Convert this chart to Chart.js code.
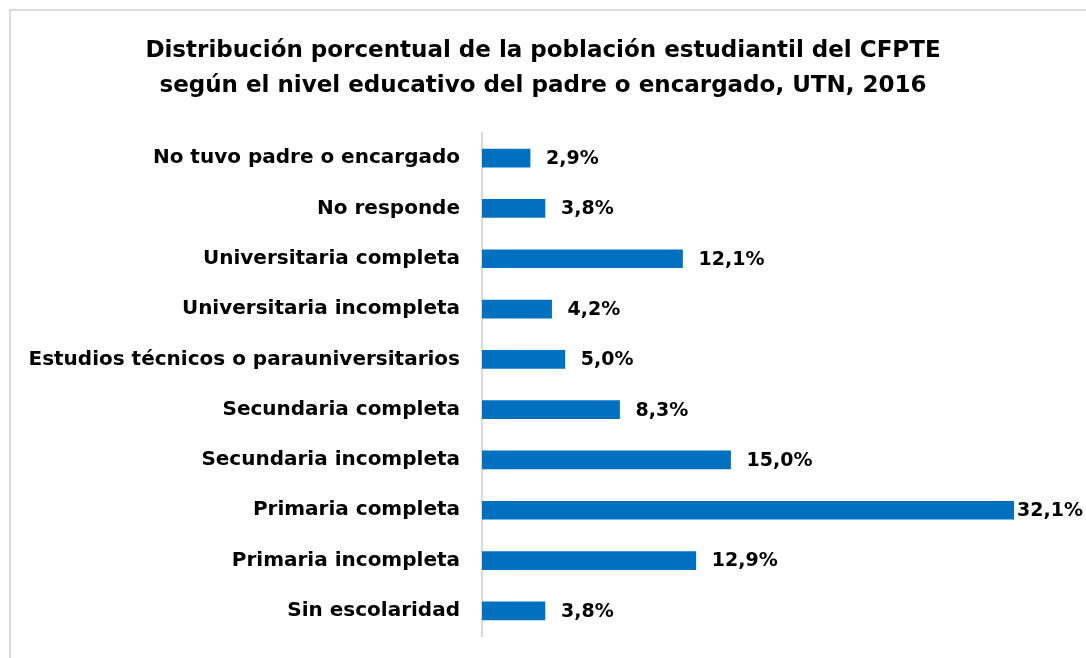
<!DOCTYPE html>
<html>
<head>
<meta charset="utf-8">
<script src="https://cdn.jsdelivr.net/npm/chart.js@4"></script>
<style>
  html, body { margin: 0; padding: 0; background: #fff; }
  #wrap { position: relative; width: 1086px; height: 658px; overflow: hidden; }
  #frame { position: absolute; left: 9px; top: 9px; width: 1200px; height: 800px;
           border-left: 2px solid #d9d9d9; border-top: 2px solid #d9d9d9; }
  canvas { position: absolute; left: 0; top: 0; }
</style>
</head>
<body>
<div id="wrap">
  <div id="frame"></div>
  <canvas id="chart" width="1086" height="658"></canvas>
</div>
<script>
// nivel educativo del padre o encargado (% estudiantes)
const categorias = [
  "No tuvo padre o encargado",
  "No responde",
  "Universitaria completa",
  "Universitaria incompleta",
  "Estudios técnicos o parauniversitarios",
  "Secundaria completa",
  "Secundaria incompleta",
  "Primaria completa",
  "Primaria incompleta",
  "Sin escolaridad"
];
const porcentajes = [2.9, 3.8, 12.1, 4.2, 5.0, 8.3, 15.0, 32.1, 12.9, 3.8];
const titulo = [
  "Distribución porcentual de la población estudiantil del CFPTE",
  "según el nivel educativo del padre o encargado, UTN, 2016"
];

const FONT = "'DejaVu Sans', sans-serif";
const AZUL = "#0070c0";

function fmtPct(v) {
  return v.toFixed(1).replace(".", ",") + "%";
}

// etiquetas de valor al final de cada barra
const etiquetasValor = {
  id: "etiquetasValor",
  afterDatasetsDraw(chart) {
    const { ctx, chartArea } = chart;
    const meta = chart.getDatasetMeta(0);
    ctx.save();
    ctx.font = `bold 19px ${FONT}`;
    ctx.fillStyle = "#000";
    ctx.textBaseline = "middle";
    ctx.textAlign = "left";
    meta.data.forEach((bar, i) => {
      const x = Math.min(bar.x + 16, chartArea.right + 3);
      ctx.fillText(fmtPct(porcentajes[i]), x, bar.y + 1);
    });
    ctx.restore();
  }
};

// el título se centra sobre todo el lienzo, no sólo hasta el padding derecho
const tituloCentrado = {
  id: "tituloCentrado",
  afterLayout(chart) {
    if (!chart.titleBlock) return;
    chart.titleBlock.left = 0;
    chart.titleBlock.right = chart.width;
  }
};

new Chart(document.getElementById("chart"), {
  type: "bar",
  data: {
    labels: categorias,
    datasets: [{
      data: porcentajes,
      backgroundColor: AZUL,
      borderWidth: 0,
      barThickness: 18
    }]
  },
  options: {
    indexAxis: "y",
    responsive: false,
    animation: false,
    devicePixelRatio: 1,
    layout: { autoPadding: false, padding: { top: 0, right: 72, bottom: 22, left: 0 } },
    plugins: {
      legend: { display: false },
      tooltip: { enabled: false },
      title: {
        display: true,
        text: titulo,
        color: "#000",
        font: { family: FONT, size: 23, weight: "bold", lineHeight: 1.5 },
        padding: { top: 34, bottom: 30 }
      }
    },
    scales: {
      x: { display: false, min: 0, max: 32.1 },
      y: {
        // ancho fijo del eje; el padding de ticks (22) no debe comerse el borde inferior
        afterFit: (s) => {
          s.width = 482;
          s.paddingTop = 0;
          s.paddingBottom = 0;
        },
        grid: { display: true, drawOnChartArea: false, drawTicks: false },
        border: { display: true, color: "#d9d9d9", width: 2 },
        ticks: {
          padding: 22,
          color: "#000",
          font: { family: FONT, size: 20, weight: "bold" }
        }
      }
    }
  },
  plugins: [etiquetasValor, tituloCentrado]
});
</script>
</body>
</html>
